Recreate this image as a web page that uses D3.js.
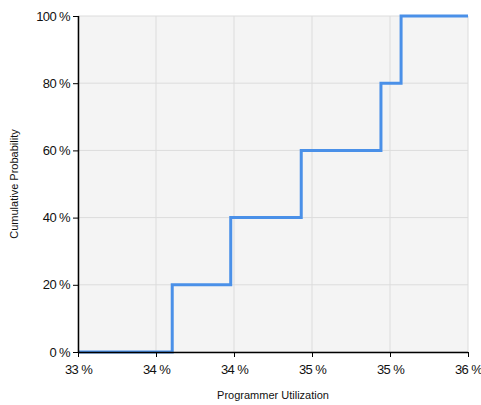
<!DOCTYPE html>
<html><head><meta charset="utf-8">
<script src="https://cdn.jsdelivr.net/npm/d3@7"></script>
<style>body{margin:0;background:#fff;} text{font-family:"Liberation Sans",Arial,sans-serif;}</style>
</head><body>
<svg id="c" width="481" height="405"></svg>
<script>
const utilization = [33.4, 34.004, 34.379, 34.831, 35.342, 35.471, 35.9];
const cumulative = [0, 0.2, 0.4, 0.6, 0.8, 1.0, 1.0];
const xTicks = [33.4, 33.9, 34.4, 34.9, 35.4, 35.9];
const yTicks = [0, 0.2, 0.4, 0.6, 0.8, 1.0];

const svg = d3.select("#c");
const m = {l:78, r:13, t:16, b:53};
const W = 481, H = 405;
const x = d3.scaleLinear().domain([33.4, 35.9]).range([m.l, W - m.r]);
const y = d3.scaleLinear().domain([0, 1]).range([H - m.b, m.t]);

svg.append("rect").attr("x", m.l).attr("y", m.t)
  .attr("width", W - m.r - m.l).attr("height", H - m.b - m.t).attr("fill", "#f4f4f4");

svg.append("g").selectAll("line").data(xTicks).join("line")
  .attr("x1", d => x(d)).attr("x2", d => x(d)).attr("y1", m.t).attr("y2", H - m.b)
  .attr("stroke", "#dcdcdc").attr("stroke-width", 1);
svg.append("g").selectAll("line").data(yTicks).join("line")
  .attr("x1", m.l).attr("x2", W - m.r).attr("y1", d => y(d)).attr("y2", d => y(d))
  .attr("stroke", "#dcdcdc").attr("stroke-width", 1);

const data = utilization.map((u, i) => ({u, c: cumulative[i]}));
svg.append("path").datum(data)
  .attr("fill", "none").attr("stroke", "#4a90e8").attr("stroke-width", 3)
  .attr("d", d3.line().x(d => x(d.u)).y(d => y(d.c)).curve(d3.curveStepAfter));

const xAxis = svg.append("g").attr("transform", `translate(0,${H - m.b})`)
  .call(d3.axisBottom(x).tickValues(xTicks).tickFormat(d => Math.round(d) + " %").tickSize(5).tickPadding(8));
const yAxis = svg.append("g").attr("transform", `translate(${m.l},0)`)
  .call(d3.axisLeft(y).tickValues(yTicks).tickFormat(d => Math.round(d * 100) + " %").tickSize(5).tickPadding(3));
[xAxis, yAxis].forEach(a => {
  a.select(".domain").attr("stroke", "#000").attr("stroke-width", 1.5);
  a.selectAll(".tick line").attr("stroke", "#000");
  a.selectAll("text").attr("fill", "#111").style("font-size", "13px").style("font-family", "Liberation Sans, Arial, sans-serif").attr("letter-spacing", "-0.6");
});
yAxis.select(".domain").attr("d", `M0.5,${m.t}V${H - m.b}`);
xAxis.select(".domain").attr("d", `M${m.l},0.5H${W - m.r}`);

svg.append("text").attr("x", (m.l + W - m.r) / 2).attr("y", 399).attr("text-anchor", "middle")
  .style("font-size", "11px").attr("fill", "#111").text("Programmer Utilization");
svg.append("text").attr("transform", `translate(18,${(m.t + H - m.b) / 2}) rotate(-90)`)
  .attr("text-anchor", "middle").style("font-size", "11px").attr("fill", "#111").text("Cumulative Probability");
</script>
</body></html>
